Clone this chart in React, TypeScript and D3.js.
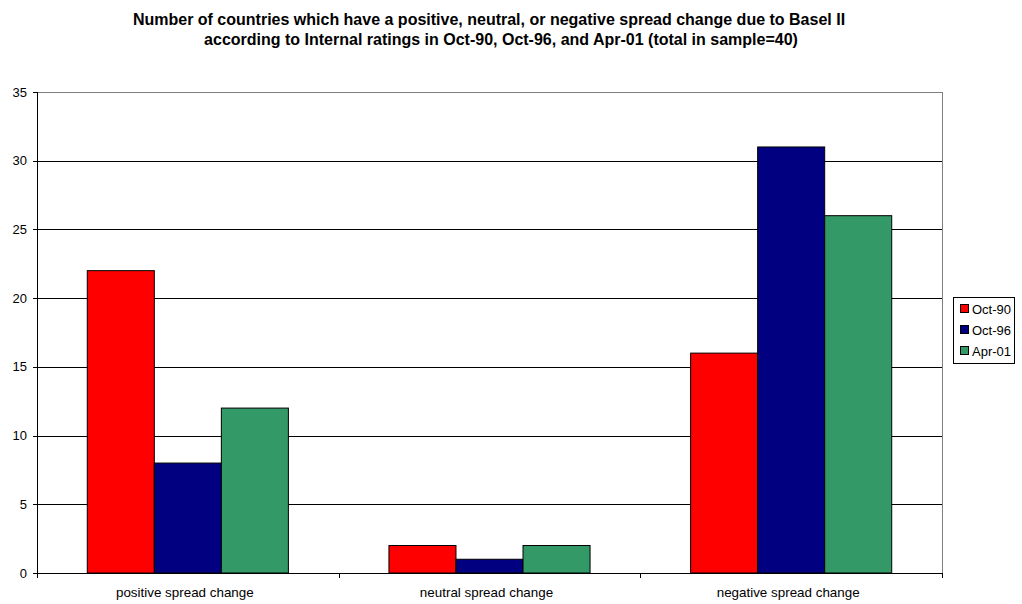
import React from "react";
import * as d3 from "d3";

const categories = ["positive spread change", "neutral spread change", "negative spread change"];
const seriesNames = ["Oct-90", "Oct-96", "Apr-01"];
const oct90 = [22, 2, 16];
const oct96 = [8, 1, 31];
const apr01 = [12, 2, 26];
const seriesColors = ["#FF0000", "#000080", "#339966"];
const yTicks = [0, 5, 10, 15, 20, 25, 30, 35];
const titleLines = [
  "Number of countries which have a positive, neutral, or negative spread change due to Basel II",
  "according to Internal ratings in Oct-90, Oct-96, and Apr-01 (total in sample=40)",
];

const W = 1022;
const H = 604;
const plot = { left: 37, right: 942, top: 92, bottom: 573 };
const font = "Arial, 'Liberation Sans', Helvetica, sans-serif";

export default function App() {
  const series = [oct90, oct96, apr01];
  const x = d3.scaleBand<string>().domain(categories).range([plot.left, plot.right]).paddingInner(0).paddingOuter(0);
  const inner = d3
    .scaleBand<string>()
    .domain(seriesNames)
    .range([0, x.bandwidth()])
    .paddingInner(0)
    .paddingOuter(0.75);
  const y = d3.scaleLinear().domain([0, 35]).range([plot.bottom, plot.top]);
  const titleX = [489, 501];

  return (
    <svg
      width={W}
      height={H}
      style={{ position: "absolute", left: 0, top: 0, background: "#fff" }}
      fontFamily={font}
    >
      {titleLines.map((t, i) => (
        <text key={i} x={titleX[i]} y={25 + i * 20} textAnchor="middle" fontSize={16} fontWeight="bold" fill="#000">
          {t}
        </text>
      ))}

      {/* plot frame: gray top/right edges */}
      <rect x={plot.left + 0.5} y={plot.top + 0.5} width={plot.right - plot.left} height={plot.bottom - plot.top} fill="none" stroke="#808080" strokeWidth={1} />

      {/* horizontal gridlines */}
      {yTicks.filter((t) => t > 0 && t < 35).map((t) => (
        <line key={t} x1={plot.left} x2={plot.right} y1={Math.round(y(t)) + 0.5} y2={Math.round(y(t)) + 0.5} stroke="#000" strokeWidth={1} />
      ))}

      {/* bars */}
      {categories.map((c, ci) => (
        <g key={c}>
          {series.map((s, si) => {
            const bx = (x(c) ?? 0) + (inner(seriesNames[si]) ?? 0);
            return (
              <rect
                key={si}
                x={bx}
                y={y(s[ci])}
                width={inner.bandwidth()}
                height={plot.bottom - y(s[ci])}
                fill={seriesColors[si]}
                stroke="#000"
                strokeWidth={1}
              />
            );
          })}
        </g>
      ))}

      {/* y axis */}
      <line x1={plot.left + 0.5} x2={plot.left + 0.5} y1={plot.top} y2={plot.bottom} stroke="#000" />
      {yTicks.map((t) => (
        <g key={t}>
          <line x1={plot.left - 4} x2={plot.left} y1={Math.round(y(t)) + 0.5} y2={Math.round(y(t)) + 0.5} stroke="#000" />
          <text x={27} y={y(t) + 4.5} textAnchor="end" fontSize={13} fill="#000">
            {t}
          </text>
        </g>
      ))}

      {/* x axis */}
      <line x1={plot.left} x2={plot.right} y1={plot.bottom + 0.5} y2={plot.bottom + 0.5} stroke="#000" />
      {d3.range(categories.length + 1).map((i) => {
        const tx = Math.round(plot.left + i * x.step()) + 0.5;
        return <line key={i} x1={tx} x2={tx} y1={plot.bottom} y2={plot.bottom + 5} stroke="#000" />;
      })}
      {categories.map((c) => (
        <text key={c} x={(x(c) ?? 0) + x.bandwidth() / 2 - 3} y={597} textAnchor="middle" fontSize={13.4} fill="#000">
          {c}
        </text>
      ))}

      {/* legend */}
      <rect x={953.5} y={297.5} width={61} height={66} fill="#fff" stroke="#000" />
      {seriesNames.map((n, i) => (
        <g key={n}>
          <rect x={960.5} y={304.5 + i * 21} width={8} height={8} fill={seriesColors[i]} stroke="#000" />
          <text x={972} y={313.5 + i * 21} fontSize={13} fill="#000">
            {n}
          </text>
        </g>
      ))}
    </svg>
  );
}
